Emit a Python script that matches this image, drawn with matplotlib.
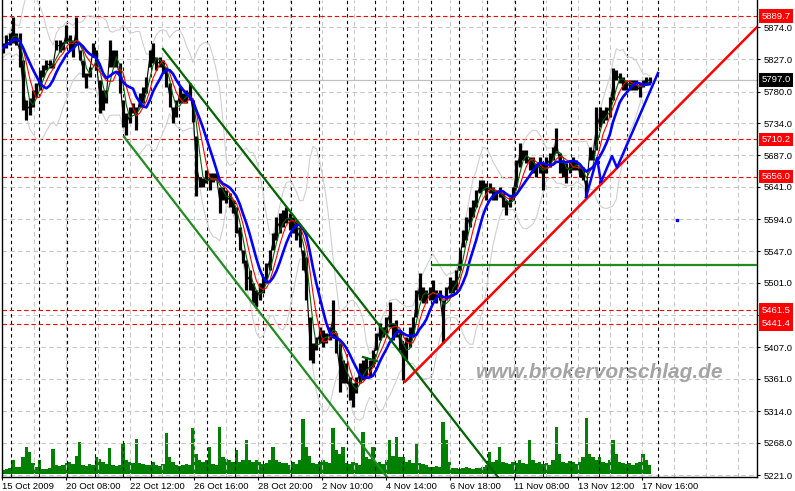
import numpy as np
import pandas as pd
import matplotlib
matplotlib.use("Agg")
import matplotlib.pyplot as plt
from matplotlib.transforms import ScaledTranslation

plt.rcParams['font.family'] = ['Liberation Sans', 'DejaVu Sans']

## DATEN (DAX M15, jede ~6.7 Bars ein Wert) ##
high = [5851, 5862, 5865, 5889, 5865, 5865, 5826, 5768, 5771, 5782,
        5792, 5811, 5819, 5826, 5826, 5822, 5855, 5855, 5852, 5877,
        5862, 5855, 5889, 5840, 5826, 5807, 5816, 5851, 5840, 5797,
        5782, 5782, 5855, 5840, 5840, 5822, 5768, 5749, 5757, 5763,
        5757, 5778, 5787, 5801, 5840, 5851, 5830, 5830, 5826, 5816,
        5792, 5757, 5768, 5787, 5778, 5782, 5792, 5768, 5715, 5655,
        5654, 5666, 5661, 5661, 5661, 5641, 5641, 5637, 5632, 5622,
        5612, 5583, 5549, 5534, 5520, 5501, 5491, 5501, 5510, 5530,
        5549, 5574, 5597, 5603, 5607, 5612, 5603, 5597, 5593, 5583,
        5549, 5539, 5451, 5413, 5422, 5437, 5432, 5428, 5437, 5476,
        5428, 5413, 5389, 5384, 5364, 5355, 5364, 5384, 5389, 5393,
        5389, 5403, 5428, 5442, 5437, 5451, 5473, 5442, 5447, 5432,
        5413, 5422, 5437, 5451, 5491, 5515, 5495, 5491, 5495, 5505,
        5491, 5491, 5476, 5495, 5510, 5505, 5520, 5549, 5578, 5597,
        5612, 5622, 5637, 5651, 5651, 5647, 5647, 5641, 5637, 5641,
        5632, 5622, 5626, 5641, 5680, 5705, 5695, 5695, 5685, 5685,
        5676, 5685, 5676, 5685, 5690, 5699, 5727, 5690, 5680, 5676,
        5680, 5685, 5680, 5670, 5670, 5651, 5699, 5695, 5757, 5757,
        5753, 5757, 5772, 5814, 5811, 5807, 5801, 5797, 5797, 5797,
        5797, 5792, 5797, 5801, 5801]
low = [5836, 5843, 5848, 5851, 5848, 5816, 5753, 5738, 5746, 5757,
       5772, 5782, 5801, 5811, 5814, 5814, 5840, 5838, 5840, 5851,
       5840, 5830, 5851, 5826, 5801, 5785, 5801, 5830, 5811, 5749,
       5753, 5763, 5816, 5816, 5816, 5778, 5728, 5717, 5734, 5749,
       5724, 5757, 5763, 5778, 5816, 5822, 5811, 5816, 5807, 5787,
       5757, 5734, 5743, 5763, 5763, 5763, 5768, 5735, 5628, 5641,
       5641, 5647, 5637, 5648, 5651, 5603, 5622, 5618, 5612, 5603,
       5574, 5549, 5530, 5491, 5491, 5472, 5466, 5476, 5486, 5501,
       5520, 5549, 5564, 5574, 5583, 5588, 5578, 5574, 5564, 5553,
       5520, 5476, 5389, 5384, 5403, 5413, 5408, 5413, 5418, 5422,
       5399, 5342, 5355, 5355, 5330, 5320, 5341, 5355, 5360, 5364,
       5364, 5378, 5403, 5418, 5422, 5428, 5437, 5418, 5422, 5403,
       5360, 5389, 5408, 5422, 5451, 5476, 5472, 5472, 5476, 5476,
       5472, 5476, 5413, 5476, 5486, 5486, 5491, 5520, 5553, 5564,
       5583, 5597, 5612, 5632, 5637, 5622, 5632, 5622, 5622, 5626,
       5612, 5600, 5612, 5622, 5641, 5670, 5680, 5676, 5666, 5661,
       5655, 5661, 5637, 5661, 5670, 5680, 5690, 5661, 5655, 5647,
       5661, 5666, 5666, 5655, 5651, 5626, 5680, 5680, 5695, 5728,
       5734, 5738, 5743, 5768, 5797, 5792, 5782, 5782, 5782, 5782,
       5782, 5772, 5787, 5792, 5792]
volume = [4, 5, 6, 14, 7, 7, 17, 27, 22, 11,
          7, 14, 5, 5, 6, 25, 9, 8, 9, 11,
          12, 10, 18, 32, 9, 8, 10, 9, 17, 15,
          12, 10, 26, 9, 8, 9, 31, 14, 12, 11,
          35, 11, 10, 9, 9, 12, 9, 8, 10, 41,
          17, 12, 9, 8, 9, 10, 9, 46, 20, 14,
          12, 14, 27, 10, 9, 47, 17, 15, 14, 12,
          24, 12, 14, 34, 14, 12, 14, 12, 10, 11,
          14, 27, 14, 12, 11, 11, 9, 12, 10, 14,
          55, 27, 18, 11, 10, 12, 14, 12, 11, 46,
          24, 20, 27, 11, 10, 12, 11, 9, 42, 17,
          15, 27, 11, 12, 10, 14, 34, 18, 37, 17,
          17, 12, 14, 11, 31, 11, 10, 9, 7, 7,
          8, 7, 52, 34, 12, 6, 6, 5, 6, 7,
          6, 5, 6, 6, 7, 9, 22, 12, 14, 27,
          12, 11, 10, 12, 11, 14, 11, 10, 34, 14,
          11, 12, 10, 11, 9, 14, 47, 20, 12, 11,
          13, 12, 10, 12, 17, 56, 20, 17, 14, 17,
          12, 11, 14, 34, 20, 12, 11, 10, 11, 9,
          11, 12, 20, 14, 9]

date_labels = ["15 Oct 2009", "20 Oct 08:00", "22 Oct 12:00", "26 Oct 16:00",
               "28 Oct 20:00", "2 Nov 10:00", "4 Nov 14:00", "6 Nov 18:00",
               "11 Nov 08:00", "13 Nov 12:00", "17 Nov 16:00"]
price_ticks = [5221.0, 5268.0, 5314.0, 5361.0, 5407.0, 5454.0, 5501.0, 5547.0,
               5594.0, 5641.0, 5687.0, 5734.0, 5780.0, 5827.0, 5874.0]
levels = [5889.7, 5710.2, 5656.0, 5461.5, 5441.4]
last_price = 5797.0

# gezeichnete Linien (Bar-Index, Kurs)
channel_top = ([322, 1000], [5842, 5210.5])
channel_bottom = ([244, 780], [5714, 5208.5])
small_line = ([722, 750], [5393, 5387])
support_line = ([860, 1510], [5527, 5527])
trend_red = ([806, 1510], [5357, 5874])
zigzag_blue = ([1168, 1190, 1198, 1220, 1230, 1312], [5626, 5683, 5648, 5686, 5669, 5807])
blue_dot = (1350, 5593)

## INDIKATOREN ##
n = len(high)
bars = 2 + np.arange(n) * (20 / 3)
mid = pd.Series((np.array(high) + np.array(low)) / 2)
ma_green = mid.rolling(3, min_periods=1).mean()
ma_red = mid.rolling(5, min_periods=1).mean()
ma_blue = mid.rolling(8, min_periods=1).mean()
bb_std = mid.rolling(10, min_periods=2).std().bfill()
bb_up = mid.rolling(10, min_periods=1).mean() + 2.2 * bb_std
bb_dn = mid.rolling(10, min_periods=1).mean() - 2.2 * bb_std

## GRAFIK ##
W, H = 795, 491
pos = [1.5 / W, 14 / H, 755.5 / W, 477 / H]
fig = plt.figure(figsize=(W / 100, H / 100), dpi=100)
axv = fig.add_axes(pos)
ax = fig.add_axes(pos, sharex=axv)
ax.patch.set_alpha(0)

x_min, x_max = -1, 1510
y_min, y_max = 5218.1, 5913.4

# Volumen
axv.bar(bars, volume, width=20 / 3, color='#008000', linewidth=0)
axv.set_ylim(-3, 474)
axv.set_xlim(x_min, x_max)
axv.axis('off')

# Gitter und Tagestrenner
for b in np.arange(0, 1500, 64):
    ax.axvline(b, color='#c8c8c8', lw=0.8, ls=(0, (4, 3)), zorder=0.5)
for p in price_ticks:
    ax.axhline(p, color='#c8c8c8', lw=0.8, ls=(0, (4, 3)), zorder=0.5)
for b in list(np.arange(18, 1251, 56)) + [1312]:
    ax.axvline(b, color='black', lw=0.8, ls=(0, (3, 3)), zorder=1)

ax.axhline(last_price, color='#c0c0c0', lw=0.9, zorder=1)
for lv in levels:
    ax.axhline(lv, color='red', lw=0.8, ls=(0, (4, 2.5)), zorder=1.5)

# Bollinger und Kurs
ax.plot(bars, bb_up, color='#d0d0d0', lw=0.8, zorder=1.8)
ax.plot(bars, bb_dn, color='#d0d0d0', lw=0.8, zorder=1.8)
ax.vlines(bars, low, high, color='black', lw=2.3, zorder=3)
ax.plot(bars, mid, color='black', lw=0.8, zorder=3)
ax.plot(bars, ma_green, color='#006400', lw=0.8, zorder=4)
ax.plot(bars, ma_red, color='red', lw=0.8, zorder=4)
ax.plot(bars, ma_blue, color='blue', lw=1.9, zorder=4.5)

# Trendlinien
ax.plot(*channel_top, color='#006400', lw=1.6, zorder=5)
ax.plot(*channel_bottom, color='#228b22', lw=1.6, zorder=5)
ax.plot(*small_line, color='#006400', lw=1.6, zorder=5)
ax.plot(*support_line, color='#228b22', lw=1.6, zorder=5)
ax.plot(*trend_red, color='red', lw=1.8, zorder=5)
ax.plot(*zigzag_blue, color='blue', lw=1.8, zorder=5)
ax.plot(*blue_dot, 's', color='blue', ms=1.8, zorder=5)

ax.text(1196, 5371, 'www.brokervorschlag.de', fontsize=15, fontweight='bold',
        fontstyle='italic', color='#a4a4a4', ha='center', va='center', zorder=6)

ax.set_xlim(x_min, x_max)
ax.set_ylim(y_min, y_max)

# Achsen
ax.yaxis.tick_right()
ax.set_yticks(price_ticks)
# 5454.0 liegt im Original unter den roten Marken
ax.set_yticklabels(["" if p == 5454.0 else f"{p:.1f}" for p in price_ticks])
ax.set_xticks(np.arange(len(date_labels)) * 128)
ax.set_xticklabels(date_labels, ha='left')
offset = ScaledTranslation(2 / 100, 0, fig.dpi_scale_trans)
for lbl in ax.get_xticklabels():
    lbl.set_transform(lbl.get_transform() + offset)
ax.tick_params(axis='both', labelsize=6.8, length=2.5, width=0.8, pad=2, colors='black')
ax.tick_params(axis='x', pad=1)
ax.spines['top'].set_visible(False)
for s in ['left', 'right', 'bottom']:
    ax.spines[s].set_linewidth(1)

ytr = ax.get_yaxis_transform()
for lv in levels:
    ax.text(1 + 4.5 / 755.5, lv, f"{lv:.1f}", transform=ytr, fontsize=6.8, color='white',
            ha='left', va='center', clip_on=False, zorder=10,
            bbox=dict(boxstyle='square,pad=0.25', fc='red', ec='none'))
ax.text(1 + 4.5 / 755.5, last_price, f"{last_price:.1f}", transform=ytr, fontsize=6.8,
        color='white', ha='left', va='center', clip_on=False, zorder=10,
        bbox=dict(boxstyle='square,pad=0.25', fc='black', ec='none'))

fig.savefig('out.png', dpi=100)
